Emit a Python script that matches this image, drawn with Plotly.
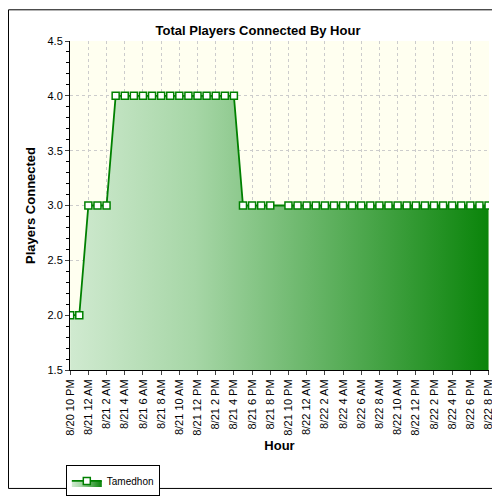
import plotly.graph_objects as go

hours = ["8/20 10 PM", "8/20 11 PM"] + [f"8/21 {h} {ap}" for ap in ["AM", "PM"] for h in [12] + list(range(1, 12))] \
    + [f"8/22 {h} {ap}" for ap in ["AM", "PM"] for h in [12] + list(range(1, 12))]
hours = hours[:47]
players = [2, 2, 3, 3, 3, 4, 4, 4, 4, 4, 4, 4, 4, 4, 4, 4, 4, 4, 4,
           3, 3, 3, 3, None, 3, 3, 3, 3, 3, 3, 3, 3, 3, 3, 3, 3, 3, 3, 3, 3, 3, 3, 3, 3, 3, 3, 3]
tick_labels = hours[::2]

fig = go.Figure()
fig.add_trace(go.Scatter(
    x=hours, y=players, name="Tamedhon", mode="lines+markers", connectgaps=True,
    line=dict(color="#008000", width=1.8),
    marker=dict(symbol="square", size=7, color="white", line=dict(color="#008000", width=1.5)),
    fill="tozeroy",
    fillgradient=dict(type="horizontal", colorscale=[[0, "#d0ead0"], [0.3, "#a6d6a6"], [1, "#0a840a"]]),
))
fig.update_layout(
    width=500, height=500, paper_bgcolor="white", plot_bgcolor="#fffff0",
    margin=dict(l=62, r=19, t=33, b=124),
    title=dict(text="<b>Total Players Connected By Hour</b>", x=0.5, xanchor="center", y=0.965, font=dict(family="Arial", size=13, color="black")),
    font=dict(family="Arial", size=11, color="black"),
    showlegend=True,
    legend=dict(x=-0.01, y=-0.29, xanchor="left", yanchor="top", orientation="h",
                bordercolor="black", borderwidth=1, font=dict(size=10)),
    xaxis=dict(title=dict(text="<b>Hour</b>", standoff=6), type="category", tickvals=tick_labels, ticktext=tick_labels,
               tickangle=-90, showline=True, linecolor="black", ticks="outside", ticklen=4, automargin=False,
               showgrid=True, gridcolor="#cccccc", griddash="dot", range=[-0.02, 46.05]),
    yaxis=dict(title=dict(text="<b>Players Connected</b>", standoff=8), range=[1.5, 4.5], dtick=0.5, tickformat=".1f",
               showline=True, linecolor="black", ticks="outside", ticklen=4, automargin=False,
               minor=dict(ticks="outside", ticklen=3, dtick=0.1, tickcolor="black"),
               showgrid=True, gridcolor="#cccccc", griddash="dot", zeroline=False),
    shapes=[dict(type="rect", xref="paper", yref="paper", x0=-0.1468, x1=1.0442, y0=-0.36, y1=1.0948,
                 line=dict(color="black", width=1))],
)
fig.write_html("out.html")
